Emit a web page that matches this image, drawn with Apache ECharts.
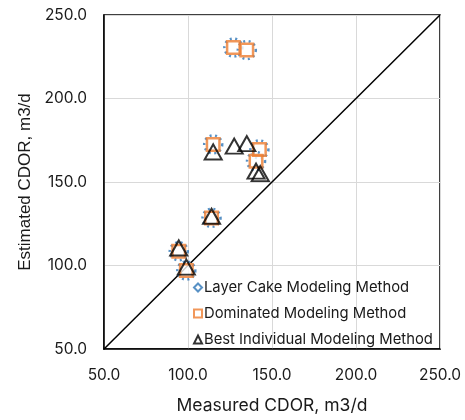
<!DOCTYPE html>
<html><head><meta charset="utf-8">
<script src="https://cdn.jsdelivr.net/npm/echarts@6/dist/echarts.min.js"></script>
<style>html,body{margin:0;padding:0;background:#fff}#c{width:465px;height:420px}</style>
</head><body><div id="c"></div>
<script>
var layerCake = [[127,230.5],[135,229],[115,172.5],[142.5,169.5],[140.5,162.5],[114,128.5],[94.5,108.5],[99,97]];
var dominated = [[127,230.5],[135,229],[115,172.5],[142.5,169.5],[140.5,162.5],[114,128.5],[94.5,108.5],[99,97]];
var bestIndividual = [[115,168],[127.5,171.5],[135,173],[140.5,156.5],[143,155],[114,129.5],[94.5,110.5],[99,99]];
var oneToOne = [[50,50],[250,250]];
var seriesNames = ['Layer Cake Modeling Method','Dominated Modeling Method','Best Individual Modeling Method'];
var xTitle = 'Measured CDOR, m3/d';
var yTitle = 'Estimated CDOR, m3/d';

var font = 'Inter, "Open Sans", sans-serif';
var chart = echarts.init(document.getElementById('c'), null, {renderer:'canvas'});
var axisCommon = {
  type:'value', min:50, max:250, interval:50,
  axisLine:{show:true, onZero:false, lineStyle:{color:'#000', width:1.5}},
  axisTick:{show:false},
  splitLine:{show:true, lineStyle:{color:'#d9d9d9', width:1}},
  axisLabel:{color:'#1a1a1a', fontSize:15.5, fontFamily:font, formatter:function(v){return v.toFixed(1);}}
};
chart.setOption({
  animation:false,
  grid:{left:104, right:25, top:15, bottom:68, show:true, borderColor:'#000', borderWidth:1.5},
  xAxis:Object.assign({}, axisCommon, {name:xTitle, nameLocation:'middle', nameGap:48,
    nameTextStyle:{color:'#1a1a1a', fontSize:17.5, fontFamily:font},
    axisLabel:Object.assign({}, axisCommon.axisLabel, {margin:18})}),
  yAxis:Object.assign({}, axisCommon, {name:yTitle, nameLocation:'middle', nameGap:62,
    nameTextStyle:{color:'#1a1a1a', fontSize:17, fontFamily:'"Liberation Sans", Arial, sans-serif'},
    axisLabel:Object.assign({}, axisCommon.axisLabel, {margin:17})}),
  legend:{orient:'vertical', left:188, top:275, itemGap:11, itemWidth:8, itemHeight:8,
    textStyle:{color:'#1a1a1a', fontSize:14.8, fontFamily:font, padding:[0,0,0,-3]},
    data:[
      {name:seriesNames[0], icon:'diamond', itemStyle:{color:'#fff', borderColor:'#2e75b6', borderWidth:2, borderType:'solid'}},
      {name:seriesNames[1], icon:'rect', itemStyle:{color:'#fff', borderColor:'#ed7d31', borderWidth:2}},
      {name:seriesNames[2], icon:'triangle', itemStyle:{color:'#fff', borderColor:'#000', borderWidth:2}}
    ]},
  series:[
    {type:'line', data:oneToOne, showSymbol:false, symbol:'none', lineStyle:{color:'#000', width:1.5}, silent:true, z:1},
    {name:seriesNames[0], type:'scatter', data:layerCake, symbol:'circle', symbolSize:18,
      itemStyle:{color:'#fff', borderColor:'#2e75b6', borderWidth:2.5, borderType:[2,3.5]}, z:2},
    {name:seriesNames[1], type:'scatter', data:dominated, symbol:'rect', symbolSize:12.5,
      itemStyle:{color:'rgba(255,255,255,0)', borderColor:'#ed7d31', borderWidth:2.5}, z:3},
    {name:seriesNames[2], type:'scatter', data:bestIndividual, symbol:'triangle', symbolSize:[17,15],
      itemStyle:{color:'rgba(255,255,255,0)', borderColor:'#000', borderWidth:2}, z:4}
  ]
});
</script></body></html>
